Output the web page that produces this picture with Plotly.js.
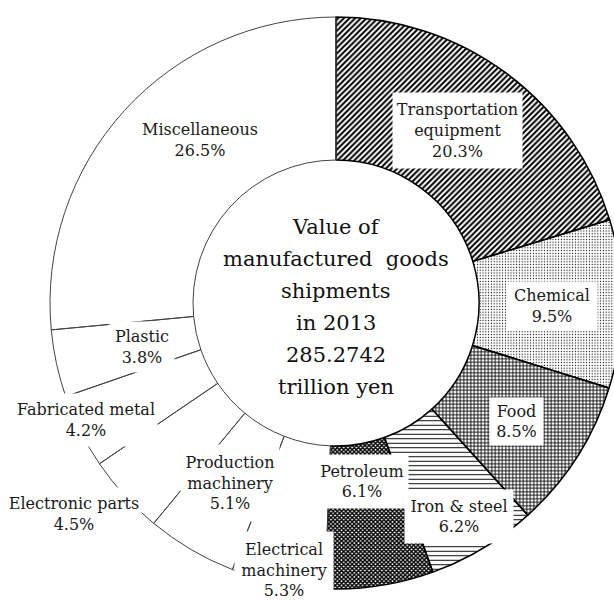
<!DOCTYPE html>
<html>
<head>
<meta charset="utf-8">
<script src="https://cdn.plot.ly/plotly-3.0.1.min.js"></script>
<style>
  html, body { margin: 0; padding: 0; background: #fff; overflow: hidden; }
  #chart { width: 650px; height: 603px; }
</style>
</head>
<body>
<div id="chart"></div>
<script>
// ---- data ----
const categories = ['Transportation equipment', 'Chemical', 'Food', 'Iron & steel', 'Petroleum',
  'Electrical machinery', 'Production machinery', 'Electronic parts', 'Fabricated metal', 'Plastic', 'Miscellaneous'];
const shares = [20.3, 9.5, 8.5, 6.2, 6.1, 5.3, 5.1, 4.5, 4.2, 3.8, 26.5];
const labelLines = ['Transportation<br>equipment', 'Chemical', 'Food', 'Iron & steel', 'Petroleum',
  'Electrical<br>machinery', 'Production<br>machinery', 'Electronic parts', 'Fabricated metal', 'Plastic', 'Miscellaneous'];
const centerLines = ['Value of', 'manufactured&nbsp; goods', 'shipments', 'in 2013', '285.2742', 'trillion yen'];

// ---- styling ----
const W = 650, H = 603;
const patterned = [
  { idx: 0, shape: '/', size: 4, solidity: 0.5 },
  { idx: 1, shape: '.', size: 2.8, solidity: 0.15 },
  { idx: 2, shape: '+', size: 3.5, solidity: 0.45 },
  { idx: 3, shape: '-', size: 4.5, solidity: 0.22 },
  { idx: 4, shape: 'x', size: 3, solidity: 0.7 }
];
// label boxes in page pixels: centre x, centre y, box width, box height
const labelBox = [
  [457, 130, 129, 75], [552, 306, 90, 48], [516, 421, 53, 47], [459, 516, 108, 53], [362, 481, 92, 53],
  [284, 570, 98, 76], [230, 483, 98, 76], [74, 514, 134, 52], [86, 420, 142, 52], [142, 347, 64, 50], [200, 140, 124, 52]
];
const serif = 'DejaVu Serif';
const domain = { x: [50 / W, 622 / W], y: [1 - 589 / H, 1 - 17 / H] };
const clear = 'rgba(0,0,0,0)';
const isPatterned = categories.map((c, i) => patterned.some(p => p.idx === i));

function basePie(extra) {
  return Object.assign({
    type: 'pie', labels: categories, values: shares, sort: false,
    direction: 'clockwise', rotation: 0, hole: 0.5,
    textinfo: 'none', hoverinfo: 'skip', showlegend: false, domain: domain
  }, extra);
}

const traces = [];
traces.push(basePie({ marker: { colors: categories.map(() => '#ffffff'), line: { width: 0 } } }));
patterned.forEach(p => {
  traces.push(basePie({
    marker: {
      colors: categories.map(() => clear),
      line: { width: 0 },
      pattern: {
        shape: categories.map((c, i) => i === p.idx ? p.shape : ''),
        size: p.size, solidity: p.solidity,
        fgcolor: '#000000', bgcolor: '#ffffff', fillmode: 'replace'
      }
    }
  }));
});
traces.push(basePie({
  marker: {
    colors: categories.map(() => clear),
    line: {
      color: isPatterned.map(b => b ? '#000000' : '#444444'),
      width: isPatterned.map(b => b ? 1.5 : 1)
    }
  }
}));

const annotations = categories.map((c, i) => ({
  xref: 'paper', yref: 'paper',
  x: labelBox[i][0] / W, y: 1 - labelBox[i][1] / H,
  xanchor: 'center', yanchor: 'middle',
  width: labelBox[i][2], height: labelBox[i][3],
  align: 'center', valign: 'middle',
  text: labelLines[i] + '<br>' + shares[i].toFixed(1) + '%',
  showarrow: false,
  bgcolor: '#ffffff',
  borderpad: 0,
  font: { family: serif, size: 16, color: '#1a1a1a' }
}));

centerLines.forEach((t, k) => {
  annotations.push({
    xref: 'paper', yref: 'paper',
    x: 336 / W, y: 1 - (227 + 32 * k) / H,
    xanchor: 'center', yanchor: 'middle',
    text: t,
    showarrow: false,
    font: { family: serif, size: 21, color: '#111' }
  });
});

const layout = {
  width: W, height: H,
  margin: { l: 0, r: 0, t: 0, b: 0 },
  paper_bgcolor: '#ffffff',
  plot_bgcolor: '#ffffff',
  annotations: annotations
};

Plotly.newPlot('chart', traces, layout, { displayModeBar: false, staticPlot: true });
</script>
</body>
</html>
